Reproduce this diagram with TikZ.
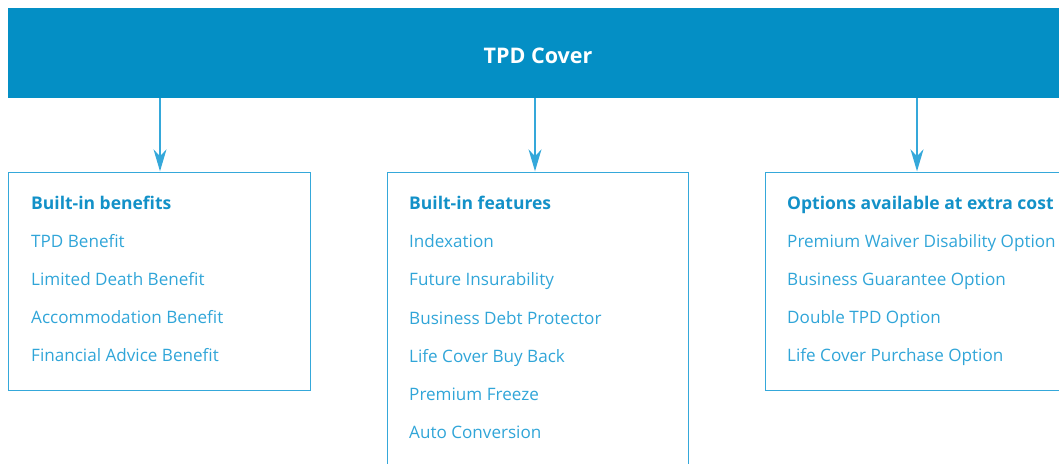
\documentclass[tikz,border=0pt]{standalone}
\usepackage{fontspec}
\setmainfont{Open Sans}
\usetikzlibrary{arrows.meta}
\definecolor{bannerblue}{HTML}{048FC5}
\definecolor{frameblue}{HTML}{35A8DA}
\definecolor{itemblue}{HTML}{30A5D8}
\definecolor{headblue}{HTML}{1391C8}
\begin{document}
\begin{tikzpicture}[x=1pt,y=-1pt,
  banner/.style={fill=bannerblue, draw=none, inner sep=0pt, anchor=north west,
    minimum width=1061pt, minimum height=90pt},
  titletext/.style={inner sep=0pt, text=white, font=\fontsize{21.5}{25}\selectfont\bfseries},
  panel/.style={draw=frameblue, line width=1.4pt, inner sep=0pt, anchor=north west, minimum height=218pt},
  headtext/.style={anchor=base west, inner sep=0pt, text=headblue, font=\fontsize{17.5}{21}\selectfont\bfseries},
  itemtext/.style={anchor=base west, inner sep=0pt, text=itemblue, font=\fontsize{17.1}{20}\selectfont},
  conn/.style={draw=frameblue, line width=1.4pt, -{Stealth[length=22pt,width=13pt,inset=7pt]}, shorten >=0.7pt}
]
\useasboundingbox (0,0) rectangle (1059,463);
\clip (0,0) rectangle (1059,463);

\node[banner] (top) at (8,8) {};
\node[titletext] (title) at (538,56) {TPD Cover};

\node[panel, minimum width=302pt] (box1) at (8,172) {};
\node[panel, minimum width=301pt, minimum height=400pt] (box2) at (387,172) {};
\node[panel, minimum width=304pt] (box3) at (765,172) {};

\coordinate (in1) at (160,172);
\coordinate (in2) at (535,172);
\coordinate (in3) at (917,172);

\draw[conn] (top.south -| in1) -- (in1);
\draw[conn] (top.south -| in2) -- (in2);
\draw[conn] (top.south -| in3) -- (in3);

% left panel
\node[headtext] (h1) at (31,209) {Built-in benefits};
\node[itemtext] (a1) at (31,247) {TPD Benefit};
\node[itemtext] (a2) at (31,285) {Limited Death Benefit};
\node[itemtext] (a3) at (31,323) {Accommodation Benefit};
\node[itemtext] (a4) at (31,361) {Financial Advice Benefit};

% middle panel
\node[headtext] (h2) at (409,209) {Built-in features};
\node[itemtext] (b1) at (409,247) {Indexation};
\node[itemtext] (b2) at (409,285) {Future Insurability};
\node[itemtext] (b3) at (409,324) {Business Debt Protector};
\node[itemtext] (b4) at (409,362) {Life Cover Buy Back};
\node[itemtext] (b5) at (409,400) {Premium Freeze};
\node[itemtext] (b6) at (409,438) {Auto Conversion};

% right panel
\node[headtext] (h3) at (787,209) {Options available at extra cost};
\node[itemtext] (c1) at (787,247) {Premium Waiver Disability Option};
\node[itemtext] (c2) at (787,285) {Business Guarantee Option};
\node[itemtext] (c3) at (787,323) {Double TPD Option};
\node[itemtext] (c4) at (787,361) {Life Cover Purchase Option};
\end{tikzpicture}
\end{document}
